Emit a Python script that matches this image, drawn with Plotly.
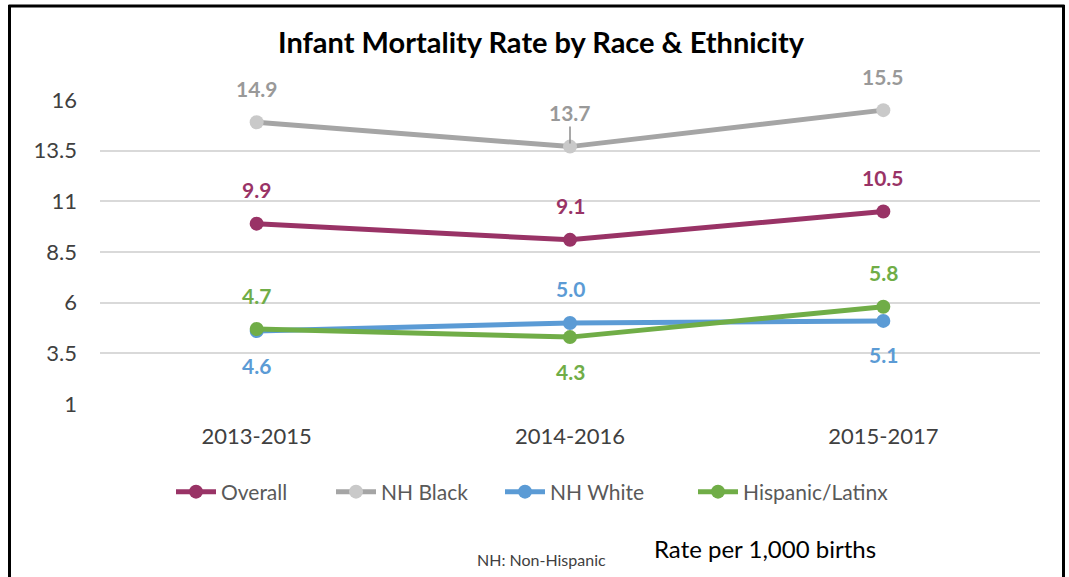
import plotly.graph_objects as go

periods = ["2013-2015", "2014-2016", "2015-2017"]
overall = [9.9, 9.1, 10.5]
nh_black = [14.9, 13.7, 15.5]
nh_white = [4.6, 5.0, 5.1]
hispanic = [4.7, 4.3, 5.8]
y_ticks = [1, 3.5, 6, 8.5, 11, 13.5, 16]

series = [
    ("Overall", overall, "#993366", "#993366", "#993366", [1, 1, 1], 105),
    ("NH Black", nh_black, "#A5A5A5", "#C9C9C9", "#999999", [1, 1, 1], 114),
    ("NH White", nh_white, "#5B9BD5", "#5B9BD5", "#5B9BD5", [-1, 1, -1], 138),
    ("Hispanic/Latinx", hispanic, "#70AD47", "#70AD47", "#70AD47", [1, -1, 1], 160),
]

FONT = "Lato"
fig = go.Figure()
annotations = []
for name, vals, lc, mc, tc, pos, lw in series:
    fig.add_trace(go.Scatter(
        x=periods, y=vals, name=name, mode="lines+markers",
        line=dict(color=lc, width=5),
        marker=dict(color=mc, size=14),
        legendwidth=lw,
    ))
    for i, v in enumerate(vals):
        if name == "NH Black" and i == 1:
            annotations.append(dict(
                x=periods[i], y=v, xref="x", yref="y", text="<b>%.1f</b>" % v,
                showarrow=True, arrowhead=0, arrowwidth=1.5, arrowcolor="#8C8C8C",
                ax=0, ay=-34, standoff=3,
                font=dict(family=FONT, size=21, color=tc),
            ))
        else:
            annotations.append(dict(
                x=periods[i], y=v, xref="x", yref="y", text="<b>%.1f</b>" % v,
                showarrow=False, yshift=34 * pos[i],
                font=dict(family=FONT, size=21, color=tc),
            ))


def px(x):
    return (x - 100) / 940


def py(y):
    return (404 - y) / 304


annotations += [
    dict(text="<b>Infant Mortality Rate by Race &amp; Ethnicity</b>", xref="paper", yref="paper",
         x=px(541), y=py(42), xanchor="center", yanchor="middle", showarrow=False,
         font=dict(family=FONT, size=29, color="#000000")),
    dict(text="Rate per 1,000 births", xref="paper", yref="paper",
         x=px(765), y=py(548), xanchor="center", yanchor="middle", showarrow=False,
         font=dict(family=FONT, size=24, color="#000000")),
    dict(text="NH: Non-Hispanic", xref="paper", yref="paper",
         x=px(541), y=py(559), xanchor="center", yanchor="middle", showarrow=False,
         font=dict(family=FONT, size=16, color="#404040")),
]

shapes = [
    dict(type="line", xref="paper", yref="paper", x0=px(8.5), x1=px(1064.5), y0=py(6), y1=py(6),
         line=dict(color="#000000", width=3)),
    dict(type="line", xref="paper", yref="paper", x0=px(9.5), x1=px(9.5), y0=py(5), y1=py(580),
         line=dict(color="#000000", width=3)),
    dict(type="line", xref="paper", yref="paper", x0=px(1063.5), x1=px(1063.5), y0=py(5), y1=py(580),
         line=dict(color="#000000", width=3)),
]

fig.update_layout(
    width=1069, height=577,
    margin=dict(l=100, r=29, t=100, b=173),
    paper_bgcolor="white", plot_bgcolor="white",
    font=dict(family=FONT, color="#404040"),
    showlegend=True,
    legend=dict(orientation="h", x=px(171), xanchor="left", y=py(492), yanchor="middle",
                font=dict(family=FONT, size=21, color="#595959"),
                itemwidth=40, tracegroupgap=0),
    annotations=annotations,
    shapes=shapes,
)
fig.update_xaxes(type="category", range=[-0.5, 2.5], showgrid=False, showline=False,
                 ticks="", tickfont=dict(family=FONT, size=22, color="#404040"),
                 ticklabelstandoff=17)
fig.update_yaxes(range=[1, 16], tickvals=y_ticks, ticktext=[str(t) for t in y_ticks],
                 showgrid=True, gridcolor="#D9D9D9", gridwidth=2, zeroline=False, showline=False,
                 tickfont=dict(family=FONT, size=22, color="#404040"), ticklabelstandoff=22)

fig.write_html("out.html")
